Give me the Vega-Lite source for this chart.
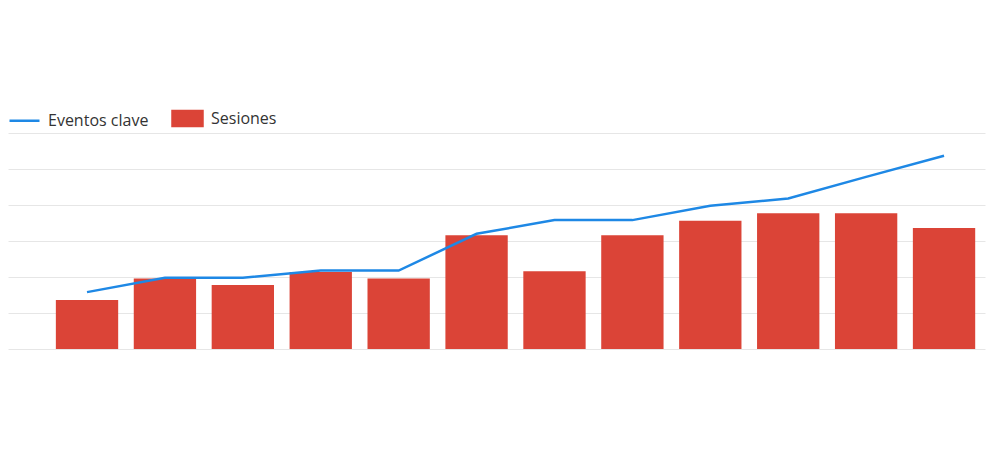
{
  "$schema": "https://vega.github.io/schema/vega-lite/v6.json",
  "width": 977,
  "height": 216,
  "padding": {"left": 8, "top": 102, "right": 15, "bottom": 100},
  "background": "white",
  "config": {
    "view": {"stroke": null},
    "font": "Open Sans",
    "legend": {"orient": "top", "direction": "horizontal", "offset": 2, "padding": 0, "labelFontSize": 16, "labelColor": "#333333", "labelFont": "Open Sans", "labelOffset": 7, "titlePadding": 0, "columnPadding": 18}
  },
  "data": {
    "values": [
      {"mes": "01", "sesiones": 136, "eventos": 158},
      {"mes": "02", "sesiones": 196, "eventos": 198},
      {"mes": "03", "sesiones": 178, "eventos": 198},
      {"mes": "04", "sesiones": 214, "eventos": 218},
      {"mes": "05", "sesiones": 196, "eventos": 218},
      {"mes": "06", "sesiones": 316, "eventos": 320},
      {"mes": "07", "sesiones": 216, "eventos": 358},
      {"mes": "08", "sesiones": 316, "eventos": 358},
      {"mes": "09", "sesiones": 356, "eventos": 398},
      {"mes": "10", "sesiones": 377, "eventos": 418},
      {"mes": "11", "sesiones": 377, "eventos": 478},
      {"mes": "12", "sesiones": 336, "eventos": 537}
    ]
  },
  "encoding": {
    "x": {"field": "mes", "type": "ordinal", "axis": null, "scale": {"paddingInner": 0.2, "paddingOuter": 0.37, "align": 0.83}}
  },
  "layer": [
    {
      "mark": {"type": "bar"},
      "encoding": {
        "y": {"field": "sesiones", "type": "quantitative", "scale": {"domain": [0, 600], "nice": false}, "axis": {"title": null, "labels": false, "ticks": false, "domain": false, "grid": true, "gridColor": "#e6e6e6", "gridWidth": 1, "values": [0, 100, 200, 300, 400, 500, 600], "tickCount": 10}},
        "color": {"datum": "Sesiones", "type": "nominal", "scale": {"domain": ["Eventos clave", "Sesiones"], "range": ["#1E88E5", "#DB4437"]}, "legend": {"title": null, "symbolSize": 900, "encode": {"symbols": {"update": {"shape": {"signal": "datum.value === 'Sesiones' ? 'M-1,-0.5H1V0.5H-1Z' : 'stroke'"}, "fill": {"signal": "datum.value === 'Sesiones' ? '#DB4437' : 'transparent'"}, "stroke": {"signal": "datum.value === 'Sesiones' ? 'transparent' : '#1E88E5'"}, "strokeWidth": {"value": 2.5}, "opacity": {"value": 1}}}}}}
      }
    },
    {
      "mark": {"type": "line", "strokeWidth": 2.5},
      "encoding": {
        "y": {"field": "eventos", "type": "quantitative"},
        "color": {"datum": "Eventos clave", "type": "nominal"}
      }
    }
  ]
}
